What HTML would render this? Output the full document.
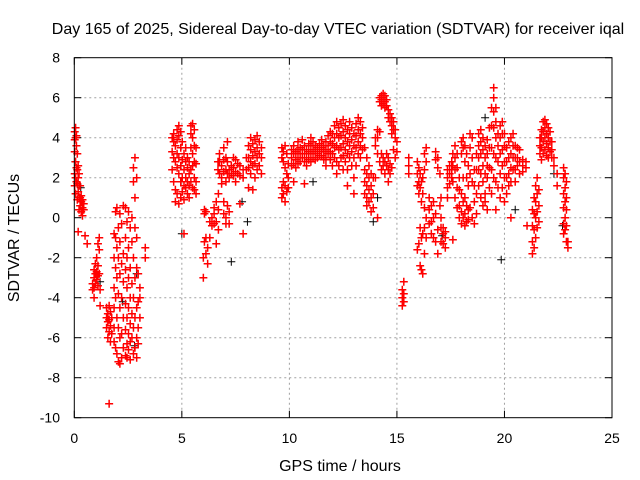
<!DOCTYPE html>
<html><head><meta charset="utf-8"><style>
body{margin:0;background:#fff}
svg{display:block;font-family:"Liberation Sans",sans-serif}
</style></head><body>
<svg id="chart" width="640" height="480" viewBox="0 0 640 480">
<rect width="640" height="480" fill="#fff"/>
<g id="grid"></g>
<g id="ticks"></g>
<g id="blkpts"></g>
<g id="redpts"></g>
<rect x="74.3" y="57.7" width="537.7" height="360" fill="none" stroke="#000" stroke-width="1"/>
<text x="338" y="34" font-size="16" text-anchor="middle">Day 165 of 2025, Sidereal Day-to-day VTEC variation (SDTVAR) for receiver iqal</text>
<text x="340" y="471" font-size="16" text-anchor="middle">GPS time / hours</text>
<text transform="translate(19,238) rotate(-90)" font-size="16" text-anchor="middle">SDTVAR / TECUs</text>
</svg>
<script>
const xTicks=[0,5,10,15,20,25];
const yTicks=[-10,-8,-6,-4,-2,0,2,4,6,8];
const redData=[
[0.02,[4.3,3.9,3.3,2.2,1.6]],[0.06,[4.5,4.0,2.8,2.0,1.2]],[0.1,[4.1,3.6,2.5,1.8]],[0.14,[3.2,2.4,1.7,0.9]],[0.18,[2.6,2.0,1.3,-0.7]],[0.22,[2.2,1.6,1.0,0.4]],[0.27,[1.6,1.0,0.6]],[0.32,[1.1,0.8,0.3]],[0.38,[0.9,0.5,0.1]],[0.44,[0.7,0.4]],[0.5,[-0.9]],[0.6,[-1.3]],
[0.85,[-3.3,-3.6]],[0.92,[-2.6,-3.0,-3.5,-4.0]],[0.98,[-2.3,-2.8,-3.3]],[1.04,[-2.0,-2.7,-3.1]],[1.1,[-1.3,-2.4,-2.9,-3.4]],[1.16,[-1.0,-1.6,-2.8]],[1.2,[-3.6,-4.4]],
[1.5,[-4.5,-5.0,-5.5]],[1.56,[-4.8,-5.2,-6.0]],[1.62,[-4.4,-5.1,-5.7,-9.3]],[1.68,[-4.7,-5.4,-6.2]],[1.74,[-5.0,-5.8]],
[1.85,[-0.8,-2.0,-3.5,-4.5,-5.5,-6.2]],[1.92,[0.3,-1.0,-2.5,-4.0,-6.5]],[1.98,[0.5,-1.5,-3.0,-5.0,-6.8]],[2.05,[-0.5,-2.0,-3.8,-5.5,-7.2]],[2.12,[0.2,-1.2,-2.8,-4.5,-6.0,-7.3]],[2.2,[-0.3,-2.3,-4.0,-5.8,-7.0]],[2.28,[0.6,-1.8,-3.2,-5.0,-6.5]],
[2.38,[0.5,-1.0,-2.6,-4.3,-5.6,-6.9]],[2.45,[-0.2,-2.0,-3.5,-5.0,-6.3,-7.0]],[2.52,[0.3,-1.5,-3.0,-4.5,-5.8,-6.6]],[2.6,[-0.5,-2.5,-4.0,-5.3,-6.2,-7.1]],[2.68,[0.0,-1.2,-3.3,-4.8,-6.0]],[2.75,[2.5,1.8,-2.0,-4.0,-5.5,-6.8]],[2.82,[3.0,1.0,-0.5,-3.0,-5.0,-6.5]],[2.9,[2.0,-1.0,-2.5,-4.5,-6.0,-7.0]],[2.97,[-2.8,-4.2,-5.5,-6.3]],[3.05,[-3.5,-4.0,-5.0]],[3.3,[-1.5,-2.0]],
[4.55,[4.0,3.3,2.4]],[4.62,[4.2,3.8,3.0,1.8]],[4.7,[3.6,2.8,1.4,0.8]],[4.78,[4.4,3.9,3.2,2.5,1.2]],[4.86,[4.6,4.1,3.0,2.2,0.7]],[4.95,[4.3,3.5,2.6,1.8,1.0]],[5.02,[3.8,2.9,2.0,1.3]],[5.1,[3.2,2.4,1.6,0.9,-0.8]],[5.18,[3.5,2.8,2.0,1.5]],[5.26,[3.0,2.5,1.8,1.2]],[5.34,[2.8,2.2,1.6,1.0]],[5.42,[4.6,4.2,3.5,2.4,1.8]],[5.5,[4.7,4.0,3.2,2.6,1.5]],[5.58,[4.4,3.6,2.8,2.0,1.4]],[5.66,[3.5,2.7,1.8,1.2]],
[6.0,[-2.0,-3.0]],[6.05,[0.4,0.2,-1.2]],[6.12,[0.3,-1.0,-1.8]],[6.2,[-1.5,-2.3]],[6.3,[-1.0,-0.2]],[6.4,[0.0,-0.4]],[6.5,[0.5,0.2,-0.3]],[6.6,[0.8,-0.2,-1.3]],[6.7,[1.2,0.4,-0.6]],
[6.68,[2.8,2.4]],[6.75,[3.2,2.8,2.2]],[6.85,[2.6,2.0,1.7]],[6.95,[3.5,2.9,2.3,0.8,0.2]],[7.05,[3.0,2.4,1.8,0.0,-0.3]],[7.12,[3.8,2.8,2.2,0.6]],[7.2,[2.4,2.0,0.3,-0.3]],[7.3,[2.6,2.2]],[7.4,[3.0,2.5,2.1]],[7.5,[2.9,2.3,1.8]],[7.6,[2.7,2.2]],[7.7,[2.6,2.1,0.7]],[7.85,[2.4,2.0,-0.8]],
[8.0,[3.0,2.4]],[8.1,[3.6,3.0,2.5,1.5]],[8.2,[4.0,3.4,2.8,2.2]],[8.3,[3.7,3.1,2.6,1.4]],[8.4,[3.9,3.3,2.7,2.0]],[8.5,[4.1,3.5,3.0,2.4]],[8.6,[3.8,3.2,2.6]],[8.7,[3.5,3.0,2.2]],
[9.65,[3.5,3.0,1.5,1.0]],[9.72,[3.3,2.8,1.8,1.2]],[9.8,[3.6,2.5,1.6,0.8]],[9.88,[3.2,2.2,1.3]],[9.95,[2.0,1.5,2.7]],
[10.1,[3.4,3.0,2.6]],[10.2,[3.6,3.2,2.7,1.8]],[10.3,[3.3,2.9,2.5]],[10.4,[3.8,3.4,3.0,2.7]],[10.5,[3.5,3.2,2.8]],[10.6,[3.9,3.4,3.0]],[10.7,[3.6,3.2,2.8,1.7]],[10.8,[3.4,3.0,2.6]],[10.9,[3.7,3.3,2.9]],[11.0,[4.0,3.6,3.2,2.8]],[11.1,[3.8,3.4,3.0]],[11.2,[3.6,3.3,2.9]],[11.3,[3.5,3.2,3.0]],[11.4,[3.7,3.4,3.1]],[11.5,[3.9,3.5,3.1]],[11.6,[3.6,3.3,2.9]],[11.7,[3.8,3.4,3.0,2.6]],[11.8,[4.1,3.6,3.2]],[11.9,[4.3,3.8,3.3,2.9]],
[12.0,[4.2,3.7,3.2,2.6]],[12.1,[4.6,4.0,3.5,3.0]],[12.2,[4.8,4.2,3.6,2.8,2.2]],[12.3,[4.5,4.0,3.4,2.6]],[12.4,[4.7,4.1,3.5,3.0]],[12.5,[4.9,4.3,3.7,3.1,2.4]],[12.6,[4.6,4.0,3.4,2.8]],[12.7,[4.4,3.8,3.2,2.4,1.6]],[12.8,[4.8,4.2,3.6,3.0]],[12.9,[4.5,3.9,3.3,2.6]],[13.0,[4.2,3.6,3.0,2.0,1.2]],[13.1,[4.7,4.1,3.5,2.6]],[13.2,[5.0,4.4,3.8,3.2]],[13.3,[4.8,4.2,3.6,3.0]],[13.4,[4.5,4.0,3.4]],
[13.5,[3.5,2.4,1.8,1.2]],[13.6,[3.0,2.2,1.6,1.0,0.6]],[13.7,[2.6,2.0,1.4,0.8]],[13.8,[2.2,1.6,1.0,0.3]],[13.9,[2.0,1.2,0.5]],[14.0,[4.0,3.6,2.0]],[14.1,[4.4,4.0,3.2,0.0]],
[14.2,[6.0,5.8,4.3,2.8]],[14.28,[6.1,5.9,5.6,3.2,2.4]],[14.36,[6.2,6.0,5.7,3.0,2.6]],[14.44,[6.1,5.8,5.5,2.8,2.2]],[14.52,[5.9,5.6,3.2,2.6]],[14.6,[5.4,5.0,3.0,2.4,1.8]],[14.68,[5.2,4.8,2.7,2.2]],[14.76,[5.0,4.6,4.2,2.5]],[14.84,[4.8,4.4,3.4]],[14.92,[4.4,4.0,3.0]],[15.0,[3.8,3.3]],
[15.25,[-3.6,-4.0,-4.4]],[15.32,[-3.2,-3.8,-4.2]],[15.55,[3.0,2.6,2.2]],
[15.95,[2.8,2.2,1.6,-1.6]],[16.02,[2.5,1.8,1.2,-1.3]],[16.08,[2.2,1.5,-0.5,-2.4]],[16.14,[1.8,0.8,-1.0,-2.6]],[16.2,[2.0,1.2,-0.8,-2.8]],[16.28,[3.2,2.4,0.5,-0.5,-1.8]],[16.36,[3.5,2.8,0.0,-1.0]],
[16.5,[1.0,0.4,-0.3]],[16.6,[0.6,-0.2,-0.8]],[16.7,[0.8,0.0,-1.0]],[16.8,[3.3,2.9,0.2,-1.2]],[16.9,[3.0,2.5,-0.6,-1.8]],[17.0,[2.2,0.6]],
[17.05,[1.0,0.0,-0.5,-1.2]],[17.15,[-0.8,-1.3,-0.5]],[17.25,[-1.0,-1.5,-0.7]],[17.35,[2.4,2.0,1.5,1.0]],[17.45,[2.6,2.2,1.7]],[17.55,[2.8,2.4,2.0]],
[17.6,[3.2,2.6,1.8,-1.1]],[17.7,[3.6,3.0,2.4,1.0]],[17.8,[3.2,2.5,1.5,0.5]],[17.9,[2.0,1.4,0.6,0.0]],
[18.0,[3.8,3.2,1.2,0.3,-0.3]],[18.08,[4.0,3.5,2.0,0.8,0.0]],[18.16,[3.6,2.8,1.0,0.2,-0.4]],[18.24,[3.2,2.0,0.6,-0.2]],[18.32,[2.6,1.6,0.4,-0.1]],[18.4,[4.2,3.5,2.2,0.5]],[18.5,[4.0,3.0,1.8,0.0]],[18.6,[2.4,1.6,0.8,-0.3]],[18.7,[3.2,2.4,1.2,0.2]],
[18.8,[4.2,3.6,3.0,2.4,1.6]],[18.9,[4.4,3.8,3.2,2.2,1.0]],[19.0,[4.0,3.4,2.6,1.8,0.6]],[19.1,[3.6,3.0,2.2,1.2,0.8]],[19.2,[3.9,3.2,2.6,2.0,0.4]],[19.3,[4.5,3.5,2.5,1.5]],[19.4,[5.5,4.6,3.5,2.4,1.2]],[19.5,[6.5,6.0,5.3,4.5,3.2,2.0]],[19.6,[5.5,4.8,4.0,3.0,1.8,0.4]],[19.7,[4.2,3.6,2.8,1.5]],
[19.8,[4.6,4.0,3.2,2.2,1.0]],[19.9,[4.8,4.2,3.4,2.6,1.5]],[20.0,[4.2,3.6,2.8,2.0,0.8]],[20.1,[3.5,2.8,2.0,1.2]],[20.2,[3.8,3.0,2.2,1.6]],[20.3,[4.0,3.2,2.5,1.8,0.0]],[20.4,[4.2,3.6,3.0,2.4]],[20.5,[3.6,3.0,2.4,1.8]],[20.6,[3.5,3.0,2.6]],[20.7,[3.4,2.8,2.2]],[20.85,[2.9,2.6,2.3]],[21.0,[2.8,2.5]],
[21.05,[-0.4]],[21.3,[0.4,-0.4,-1.2,-1.8]],[21.38,[1.0,0.2,-0.6,-1.5]],[21.45,[1.6,0.8,0.0,-1.0]],[21.52,[2.0,1.2,0.3,-0.5]],[21.6,[1.4,0.6,-0.2]],
[21.65,[4.0,3.6,3.2]],[21.72,[4.4,4.0,3.5,2.9]],[21.8,[4.8,4.3,3.8,3.2]],[21.88,[4.9,4.5,4.0,3.4]],[21.96,[4.7,4.2,3.7,3.1]],[22.04,[4.5,4.0,3.5,3.0]],[22.12,[4.3,3.8,3.3]],[22.2,[3.8,3.4,3.0]],[22.3,[3.0,2.6]],
[22.45,[2.2,1.6]],[22.75,[2.5,2.0,1.2,0.5,-0.3,-0.8]],[22.82,[2.2,1.5,0.8,0.0,-0.6]],[22.88,[1.8,1.0,0.4,-0.4,-1.2]],[22.95,[-1.2,-1.5]]
];
const blackData=[[0.1,[3.6]],[0.05,[2.8]],[0.3,[1.5]],[1.2,[-3.2]],[2.25,[-4.2]],[2.9,[-2.8]],[2.8,[-6.4]],[7.3,[-2.2]],[7.8,[0.8]],[8.05,[-0.2]],[11.1,[1.8]],[13.9,[-0.2]],[14.1,[1.0]],[19.85,[-2.1]],[19.1,[5.0]],[20.5,[0.4]],[22.3,[2.2]],[22.7,[-0.4]],[17.1,[-0.9]],[5.0,[-0.8]]];

const X0=74.3,X1=612,Y0=417.7,Y1=57.7;
function xs(t){return X0+(t-0)/(25-0)*(X1-X0);}
function ys(v){return Y0-(v+10)/(18)*(Y0-Y1);}
const NS="http://www.w3.org/2000/svg";
function mk(tag,attrs,parent){const e=document.createElementNS(NS,tag);for(const k in attrs)e.setAttribute(k,attrs[k]);parent.appendChild(e);return e;}
const grid=document.getElementById('grid'),ticks=document.getElementById('ticks');
xTicks.forEach(t=>{
  const x=xs(t);
  if(t>0&&t<25){const g=mk('line',{x1:x,x2:x,y1:Y1,y2:Y0,stroke:'#a0a0a0','stroke-dasharray':'2,3'},grid);
  
  }
  mk('line',{x1:x,x2:x,y1:Y0,y2:Y0-7,stroke:'#000'},ticks);
  mk('line',{x1:x,x2:x,y1:Y1,y2:Y1+7,stroke:'#000'},ticks);
  const l=mk('text',{x:x,y:443,'font-size':14,'text-anchor':'middle'},ticks);l.textContent=t;
  
  
});
yTicks.forEach(v=>{
  const y=ys(v);
  if(v>-10&&v<8){const g=mk('line',{x1:X0,x2:X1,y1:y,y2:y,stroke:'#a0a0a0','stroke-dasharray':'2,3'},grid);
  
  }
  mk('line',{x1:X0,x2:X0+7,y1:y,y2:y,stroke:'#000'},ticks);
  mk('line',{x1:X1,x2:X1-7,y1:y,y2:y,stroke:'#000'},ticks);
  const l=mk('text',{x:60,y:y+5,'font-size':14,'text-anchor':'end'},ticks);l.textContent=v;
  
  
});
function plot(data,gid,color,name,w){
  const g=document.getElementById(gid);let d='';
  data.forEach(([t,vals])=>vals.forEach(v=>{const x=xs(t),y=ys(v);d+=`M${x-4},${y}h8M${x},${y-4}v8`;}));
  const p=mk('path',{d:d,stroke:color,'stroke-width':w,fill:'none'},g);
  
  
}
plot(blackData,'blkpts','#000','black-points',1);
plot(redData,'redpts','#ff0000','red-points',1.5);
</script>
</body></html>
